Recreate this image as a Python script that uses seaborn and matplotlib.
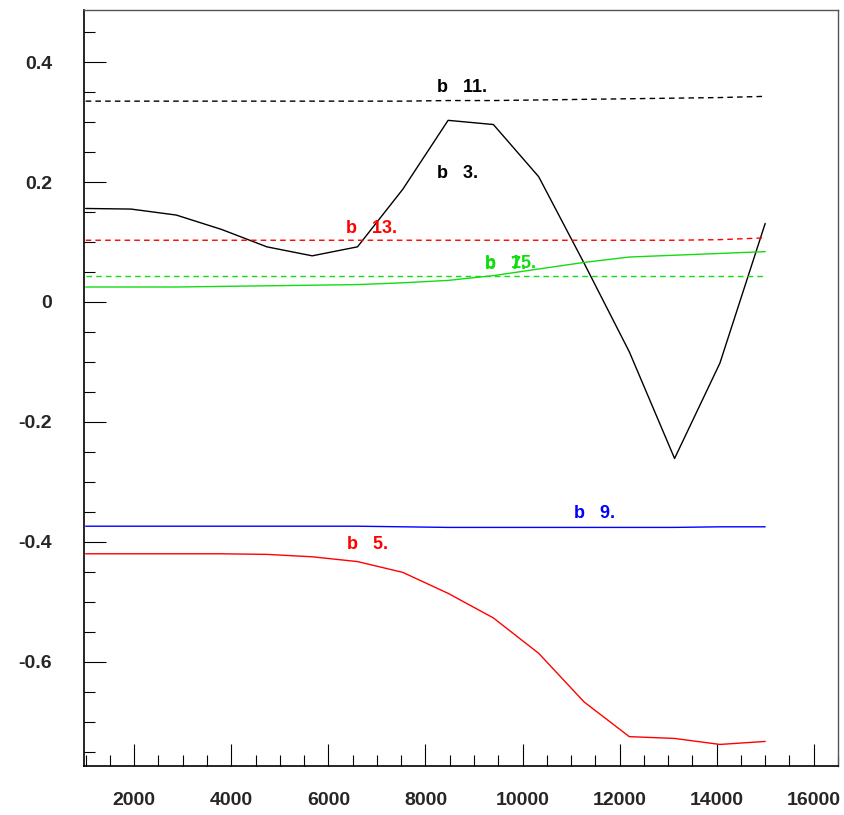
import numpy as np
import pandas as pd
import matplotlib
matplotlib.use("Agg")
import matplotlib.pyplot as plt
import seaborn as sns
from matplotlib.ticker import MultipleLocator

# x grid of the scan
x = [1000, 1933, 2867, 3800, 4733, 5667, 6600, 7533, 8467, 9400,
     10333, 11267, 12200, 13133, 14067, 15000]

b3 = [0.156, 0.155, 0.145, 0.121, 0.092, 0.077, 0.092, 0.188, 0.303, 0.296,
      0.209, 0.065, -0.083, -0.261, -0.102, 0.131]
b5 = [-0.420, -0.420, -0.420, -0.420, -0.421, -0.425, -0.433, -0.451, -0.486, -0.527,
      -0.586, -0.667, -0.725, -0.728, -0.738, -0.733]
b7 = [0.025, 0.025, 0.025, 0.026, 0.027, 0.028, 0.029, 0.032, 0.036, 0.044,
      0.055, 0.066, 0.075, 0.078, 0.081, 0.084]
b9 = [-0.374, -0.374, -0.374, -0.374, -0.374, -0.374, -0.374, -0.375, -0.376, -0.376,
      -0.376, -0.376, -0.376, -0.376, -0.375, -0.375]
b11 = [0.335, 0.335, 0.335, 0.335, 0.335, 0.335, 0.335, 0.335, 0.336, 0.336,
       0.337, 0.338, 0.339, 0.340, 0.341, 0.343]
b13 = [0.103, 0.103, 0.103, 0.103, 0.103, 0.103, 0.103, 0.103, 0.103, 0.103,
       0.103, 0.103, 0.103, 0.103, 0.104, 0.107]
b15 = [0.043] * 16

series = {"b3": b3, "b5": b5, "b7": b7, "b9": b9, "b11": b11, "b13": b13, "b15": b15}
colors = {"b3": "black", "b5": "#ff0000", "b7": "#11dd11", "b9": "#0000ff",
          "b11": "black", "b13": "#ff0000", "b15": "#11dd11"}
dashed = ["b11", "b13", "b15"]

# label text and where it sits
labels = ["b   11.", "b   3.", "b   13.", "b   15.", "b   7.", "b   9.", "b   5."]
label_keys = ["b11", "b3", "b13", "b15", "b7", "b9", "b5"]
label_pos = [(8230, 0.357), (8230, 0.215), (6360, 0.123), (9220, 0.065),
             (9220, 0.062), (11070, -0.352), (6380, -0.405)]

df = pd.DataFrame({"x": np.tile(x, len(series)),
                   "y": np.concatenate([series[k] for k in series]),
                   "name": np.repeat(list(series), len(x))})

sns.set_theme(style="white")
plt.rcParams["font.family"] = ["Liberation Sans", "DejaVu Sans"]

fig = plt.figure(figsize=(8.45, 8.15), dpi=100)
ax = fig.add_axes([0.0994, 0.0601, 0.8923, 0.9276])

for k in series:
    sub = df[df.name == k]
    ls = (0, (4, 3)) if k in dashed else "-"
    sns.lineplot(data=sub, x="x", y="y", ax=ax, color=colors[k], linewidth=1.0,
                 linestyle=ls, legend=False)

for t, k, (px, py) in zip(labels, label_keys, label_pos):
    ax.text(px, py, t, color=colors[k], fontsize=13, fontweight="bold",
            ha="left", va="center")

ax.set_xlim(965, 16500)
ax.set_ylim(-0.774, 0.487)
ax.set_xlabel("")
ax.set_ylabel("")

ax.xaxis.set_major_locator(MultipleLocator(2000))
ax.xaxis.set_minor_locator(MultipleLocator(500))
ax.yaxis.set_major_locator(MultipleLocator(0.2))
ax.yaxis.set_minor_locator(MultipleLocator(0.05))
ax.yaxis.set_major_formatter(matplotlib.ticker.FuncFormatter(
    lambda v, p: "0" if abs(v) < 1e-9 else ("%.1f" % v)))
ax.xaxis.set_major_formatter(matplotlib.ticker.FuncFormatter(lambda v, p: "%d" % v))

ax.tick_params(which="both", direction="in", color="black", bottom=True, left=True,
               top=False, right=False, width=0.8)
ax.tick_params(which="major", length=16, labelsize=14)
ax.tick_params(which="minor", length=8)
ax.tick_params(axis="x", which="major", pad=19)
ax.tick_params(axis="y", which="major", pad=23)
for lab in ax.get_xticklabels() + ax.get_yticklabels():
    lab.set_fontweight("bold")

for side in ["left", "bottom"]:
    ax.spines[side].set_color("black")
    ax.spines[side].set_linewidth(1.2)
for side in ["top", "right"]:
    ax.spines[side].set_color("#555555")
    ax.spines[side].set_linewidth(1.0)

fig.savefig("out.png", dpi=100)
